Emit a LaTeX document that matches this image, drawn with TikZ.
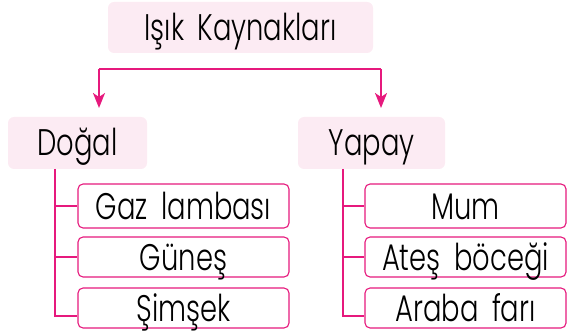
\documentclass[tikz,border=0pt]{standalone}
\usepackage{fontspec}
\setmainfont[UprightFont=* Light, FakeStretch=0.74, WordSpace=1.8]{Poppins}
\usetikzlibrary{arrows.meta}
\definecolor{kpink}{RGB}{230,25,125}
\definecolor{kfill}{RGB}{252,235,243}
\begin{document}
\begin{tikzpicture}[x=1pt, y=-1pt,
  head/.style={fill=kfill, rounded corners=6pt, inner sep=0pt, text height=26pt, text depth=0pt,
    minimum height=52pt, font=\fontsize{37}{40}\selectfont},
  item/.style={draw=kpink, line width=1.1pt, fill=white, rounded corners=5pt, inner sep=0pt,
    text height=26pt, text depth=0pt, font=\fontsize{37}{40}\selectfont},
  link/.style={draw=kpink, line width=2pt},
  >={Stealth[length=15pt, width=12pt, inset=4pt]}]
\useasboundingbox (0,0) rectangle (567,331);

\node[head, minimum width=265pt, minimum height=51pt] (title) at (240.5,27.5) {Işık Kaynakları};
\node[head, minimum width=139pt] (dogal) at (77.5,143) {Doğal};
\node[head, minimum width=147pt] (yapay) at (371.5,143) {Yapay};

\node[item, minimum width=211pt, minimum height=44pt] (gaz) at (183.5,206) {Gaz lambası};
\node[item, minimum width=211pt, minimum height=40pt] (gunes) at (183.5,257) {Güneş};
\node[item, minimum width=211pt, minimum height=40pt] (simsek) at (183.5,308) {Şimşek};

\node[item, minimum width=201pt, minimum height=44pt] (mum) at (465.5,206) {Mum};
\node[item, minimum width=201pt, minimum height=40pt] (ates) at (465.5,257) {Ateş böceği};
\node[item, minimum width=201pt, minimum height=40pt] (araba) at (465.5,308) {Araba farı};

% ayrim cizgisi
\coordinate (barL) at (99,69);
\coordinate (barR) at (381,69);
\draw[link, ->] (barL) -- (barL |- 0,108);
\draw[link, ->] (barR) -- (barR |- 0,108);
\draw[link] (barL) -- (barR);

% dogal kollari
\coordinate (lt) at (55,169);
\draw[link] (lt) |- ([yshift=-8pt]simsek.west);
\draw[link] (lt |- gaz.west) -- (gaz.west);
\draw[link] (lt |- gunes.west) -- (gunes.west);

% yapay kollari
\coordinate (rt) at (343,169);
\draw[link] (rt) |- ([yshift=-8pt]araba.west);
\draw[link] (rt |- mum.west) -- (mum.west);
\draw[link] (rt |- ates.west) -- (ates.west);
\end{tikzpicture}
\end{document}
